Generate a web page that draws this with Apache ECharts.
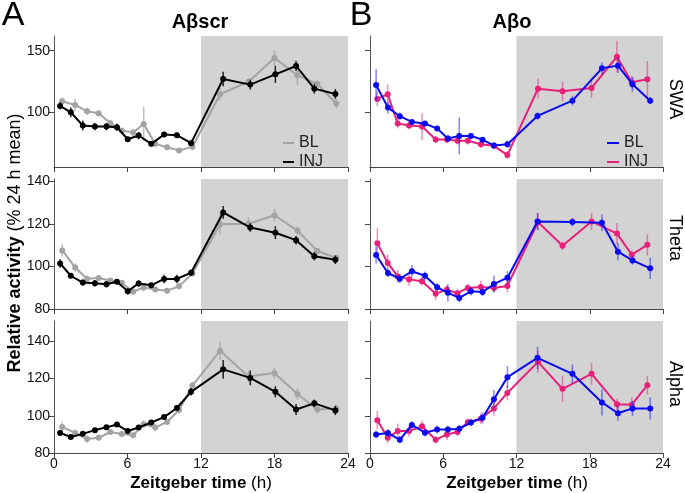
<!DOCTYPE html>
<html><head><meta charset="utf-8">
<script src="https://cdn.jsdelivr.net/npm/echarts@6/dist/echarts.min.js"></script>
<style>html,body{margin:0;padding:0;background:#fff}#c{width:685px;height:493px}</style>
</head><body><div id="c"></div>
<script>
// ---------- tick labels ----------
const xTicks = [0, 6, 12, 18, 24];
const swaTicks = [100, 150];
const thetaTicks = [80, 100, 120, 140];
const alphaTicks = [80, 100, 120, 140];
const rowNames = ['SWA', 'Theta', 'Alpha'];
const groupTitles = ['Aβscr', 'Aβo'];
const panelLetters = ['A', 'B'];
const legendNames = ['BL', 'INJ'];

// ---------- sample times (Zeitgeber h) ----------
const scrBLTime  = [0.67,1.73,2.7,3.65,4.6,5.53,6.46,7.32,8.27,9.23,10.21,11.3,13.56,15.88,18.0,19.87,21.5,23.04];
const scrINJTime = [0.5,1.37,2.35,3.34,4.28,5.14,6.02,6.91,7.94,8.99,10.03,11.19,13.81,16.02,18.07,19.76,21.25,22.97];
const oBLTime    = [0.5,1.47,2.44,3.43,4.5,5.5,6.38,7.31,8.27,9.22,10.15,11.26,13.72,16.58,19.0,20.31,21.5,22.95];
const oINJTime   = [0.6,1.45,2.27,3.2,4.26,5.38,6.3,7.16,8.01,9.08,10.15,11.25,13.76,15.77,18.15,20.23,21.44,22.72];

// ---------- Aβscr ----------
const scrSwaBL     = [108.7,105.7,100.5,98.9,90.8,84.8,83.2,90.2,73.9,71.2,68.5,71.5,114.4,124.7,144,130,122.8,106.8];
const scrSwaBLErr  = [3,5,3,2,2,2,3,14,3,2,2,3,5,3,6,8,3,4];
const scrSwaINJ    = [104.9,99.7,88.9,88,88,87.5,77.7,80.7,73.9,81.5,81,74.5,126.9,122.3,130.7,137.5,119,114.7];
const scrSwaINJErr = [3,4,4,3,3,3,2,3,2,2,2,2,6,4,7,4,4,4];
const scrThetaBL     = [107.5,99.5,94.2,94.5,93.4,92.3,88.1,90.1,89.2,88.6,90.7,96.6,119.8,120,124,116.8,107.2,104];
const scrThetaBLErr  = [3,2,1,1,1,1,1,2,1,1,1.5,1,5,3,3,2,1.5,1];
const scrThetaINJ    = [101.4,95.6,92.4,92.1,91.6,92.8,88.3,92,91.1,94.1,94.1,97,125.3,118.2,115.8,112.3,104.8,103.1];
const scrThetaINJErr = [2,1,1.5,1.5,1.5,1,1.5,1.5,1,2,2,1.5,3,2,3,2,2,2];
const scrAlphaBL     = [94,90.8,87.5,88.2,91.3,90.2,89.5,95.5,93.7,96.7,103.1,116.3,135,121.2,123,111.7,103.4,104];
const scrAlphaBLErr  = [3,2,2,1,1,1,1,2,2,1.5,2,2,5,3,3,3,2,2];
const scrAlphaINJ    = [90.8,88.6,90.3,92.3,93.8,95.3,91.8,93.7,96.4,99.3,104.2,112.9,125,120.4,112.9,103.4,106.7,102.9];
const scrAlphaINJErr = [1,1,1,1,1,1,1.5,1,1,1,1.5,2,5,4,3,3,2,2.5];

// ---------- Aβo ----------
const oSwaBL     = [122,103.5,96.5,91.8,90.5,86.4,78.3,80.4,80.4,77.2,72.6,73.6,96.7,109.2,135.6,137.8,122.6,109.2];
const oSwaBLErr  = [13,5,3,2,2,2,3,15,2,2,2,3,3,4,5,6,6,3];
const oSwaINJ    = [110.6,114.4,90.5,88.9,88,77.4,77.4,76.4,76.4,73.6,72.3,64.7,119,116.8,119.6,145.1,124.2,126.6];
const oSwaINJErr = [6,8,4,3,11,3,3,3,3,3,3,3,8,8,8,13,5,15];
const oThetaBL     = [105.3,96.9,94.2,97.7,95.6,90.2,87.6,85.2,88.3,88,91.7,94.7,121.1,120.8,120.5,106.9,102.8,99.1];
const oThetaBLErr  = [4,2,2,3,2,2,4,2,2,2,4,3,4,2,4,4,2,5];
const oThetaINJ    = [110.9,101.6,95.3,93.9,93,87.2,89.1,87.4,89.9,90.3,89.9,90.8,120.8,109.7,121.1,115.4,105.5,110.1];
const oThetaINJErr = [7,4,3,3,2,3,2,2,2,3,2,3,4,2,4,5,2,5];
const oAlphaBL     = [90,90.8,87.1,95.1,90.9,92.6,92.6,93.1,96.4,98.9,108.9,120.8,131.2,122.6,107.2,101.4,104,104];
const oAlphaBLErr  = [2,2,2,2,2,2,2,2,2,3,5,6,6,5,7,4,4,6];
const oAlphaINJ    = [97.6,88.2,91.8,91.8,94.4,87.1,90,91.3,96.6,98.4,104,112.3,129,114.5,122.6,106.2,106,116.5];
const oAlphaINJErr = [5,3,4,3,3,2,3,2,2,3,4,4,6,7,6,3,4,5];

// ---------- layout / style ----------
const FONT = 'Liberation Sans, Arial, Helvetica, sans-serif';
const colLeft = [54, 370], colWidth = [294, 293];
const rowTop = [36, 179, 321], rowHeight = [131, 130, 132];
const rowRange = [[55, 162], [80, 141], [80, 151]];
const rowTicks = [swaTicks, thetaTicks, alphaTicks];
const colColors = [
  {bl: '#a3a3a3', blErr: 'rgba(150,150,150,0.6)', inj: '#000000', injErr: 'rgba(0,0,0,0.85)', injTop: true},
  {bl: '#0b0bf0', blErr: 'rgba(30,30,240,0.55)', inj: '#e8207a', injErr: 'rgba(232,32,122,0.5)', injTop: false}
];
const panelData = [
  [[scrBLTime, scrSwaBL, scrSwaBLErr, scrINJTime, scrSwaINJ, scrSwaINJErr],
   [oBLTime, oSwaBL, oSwaBLErr, oINJTime, oSwaINJ, oSwaINJErr]],
  [[scrBLTime, scrThetaBL, scrThetaBLErr, scrINJTime, scrThetaINJ, scrThetaINJErr],
   [oBLTime, oThetaBL, oThetaBLErr, oINJTime, oThetaINJ, oThetaINJErr]],
  [[scrBLTime, scrAlphaBL, scrAlphaBLErr, scrINJTime, scrAlphaINJ, scrAlphaINJErr],
   [oBLTime, oAlphaBL, oAlphaBLErr, oINJTime, oAlphaINJ, oAlphaINJErr]]
];

function errRender(color) {
  return function (params, api) {
    const x = api.value(0), lo = api.value(1), hi = api.value(2);
    const p1 = api.coord([x, lo]), p2 = api.coord([x, hi]);
    return {type: 'line', shape: {x1: p1[0], y1: p1[1], x2: p2[0], y2: p2[1]},
            style: {stroke: color, lineWidth: 1.5}};
  };
}

const grid = [], xAxis = [], yAxis = [], series = [];
for (let r = 0; r < 3; r++) {
  for (let c = 0; c < 2; c++) {
    const idx = grid.length;
    grid.push({left: colLeft[c], top: rowTop[r], width: colWidth[c], height: rowHeight[r], containLabel: false});
    xAxis.push({
      type: 'value', gridIndex: idx, min: 0, max: 24, interval: 6, z: 6,
      axisLine: {show: true, lineStyle: {color: '#444', width: 1}},
      axisTick: {show: true, length: 5, lineStyle: {color: '#444'}},
      axisLabel: {show: r === 2, color: '#111', fontSize: 14, fontFamily: FONT, margin: 4,
                  customValues: xTicks},
      splitLine: {show: false}
    });
    yAxis.push({
      type: 'value', gridIndex: idx, min: rowRange[r][0], max: rowRange[r][1], z: 6,
      axisLine: {show: true, lineStyle: {color: '#555', width: 1}},
      axisTick: {show: true, length: 5, lineStyle: {color: '#444'}, customValues: rowTicks[r]},
      axisLabel: {show: c === 0, color: '#111', fontSize: 14, fontFamily: FONT, margin: 4,
                  customValues: rowTicks[r]},
      splitLine: {show: false}
    });
    const d = panelData[r][c];
    const col = colColors[c];
    // dark-phase shading
    series.push({
      type: 'line', xAxisIndex: idx, yAxisIndex: idx, data: [], z: 1, silent: true,
      markArea: {silent: true, itemStyle: {color: '#d3d3d3', opacity: 1},
                 data: [[{xAxis: 12}, {xAxis: 24}]]}
    });
    const mk = (times, vals, errs, color, errColor, z) => {
      series.push({
        type: 'custom', xAxisIndex: idx, yAxisIndex: idx, z: z, silent: true,
        renderItem: errRender(errColor), encode: {x: 0, y: [1, 2]},
        data: times.map((t, i) => [t, vals[i] - errs[i], vals[i] + errs[i]])
      });
      series.push({
        type: 'line', xAxisIndex: idx, yAxisIndex: idx, z: z + 1, silent: true,
        data: times.map((t, i) => [t, vals[i]]),
        symbol: 'circle', symbolSize: 6, showSymbol: true,
        lineStyle: {color: color, width: 2}, itemStyle: {color: color}
      });
    };
    if (col.injTop) {
      mk(d[0], d[1], d[2], col.bl, col.blErr, 3);
      mk(d[3], d[4], d[5], col.inj, col.injErr, 5);
    } else {
      mk(d[3], d[4], d[5], col.inj, col.injErr, 3);
      mk(d[0], d[1], d[2], col.bl, col.blErr, 5);
    }
  }
}

const txt = (x, y, text, extra) => Object.assign({type: 'text', x: x, y: y, z: 100,
  style: Object.assign({text: text, fontFamily: FONT, fill: '#000', align: 'center', verticalAlign: 'middle'}, extra.style || {})},
  extra.rotation !== undefined ? {rotation: extra.rotation} : {});

const graphic = [
  txt(13, 16, panelLetters[0], {style: {fontSize: 34}}),
  txt(361, 16, panelLetters[1], {style: {fontSize: 34}}),
  txt(200, 22, groupTitles[0], {style: {fontSize: 20, fontWeight: 'bold'}}),
  txt(512, 22, groupTitles[1], {style: {fontSize: 20, fontWeight: 'bold'}}),
  txt(675, 99, rowNames[0], {rotation: -Math.PI / 2, style: {fontSize: 18}}),
  txt(675, 238, rowNames[1], {rotation: -Math.PI / 2, style: {fontSize: 18}}),
  txt(675, 384, rowNames[2], {rotation: -Math.PI / 2, style: {fontSize: 18}}),
  {type: 'text', x: 15, y: 243, rotation: Math.PI / 2, z: 100,
   style: {text: '{b|Relative activity }{n|(% 24 h mean)}', align: 'center', verticalAlign: 'middle',
           rich: {b: {fontSize: 18, fontWeight: 'bold', fontFamily: FONT, fill: '#000'},
                  n: {fontSize: 18, fontFamily: FONT, fill: '#000'}}}},
  {type: 'text', x: 201, y: 483, z: 100,
   style: {text: '{b|Zeitgeber time }{n|(h)}', align: 'center', verticalAlign: 'middle',
           rich: {b: {fontSize: 17, fontWeight: 'bold', fontFamily: FONT, fill: '#000'},
                  n: {fontSize: 17, fontFamily: FONT, fill: '#000'}}}},
  {type: 'text', x: 517, y: 483, z: 100,
   style: {text: '{b|Zeitgeber time }{n|(h)}', align: 'center', verticalAlign: 'middle',
           rich: {b: {fontSize: 17, fontWeight: 'bold', fontFamily: FONT, fill: '#000'},
                  n: {fontSize: 17, fontFamily: FONT, fill: '#000'}}}},
  // legends
  {type: 'line', z: 100, shape: {x1: 283, y1: 143, x2: 294, y2: 143}, style: {stroke: colColors[0].bl, lineWidth: 2}},
  {type: 'line', z: 100, shape: {x1: 283, y1: 162, x2: 294, y2: 162}, style: {stroke: colColors[0].inj, lineWidth: 2}},
  txt(299, 143, legendNames[0], {style: {fontSize: 16, align: 'left', fill: '#222'}}),
  txt(299, 162, legendNames[1], {style: {fontSize: 16, align: 'left', fill: '#222'}}),
  {type: 'line', z: 100, shape: {x1: 607, y1: 143, x2: 619, y2: 143}, style: {stroke: colColors[1].bl, lineWidth: 2}},
  {type: 'line', z: 100, shape: {x1: 607, y1: 162, x2: 619, y2: 162}, style: {stroke: colColors[1].inj, lineWidth: 2}},
  txt(624, 143, legendNames[0], {style: {fontSize: 16, align: 'left', fill: '#222'}}),
  txt(624, 162, legendNames[1], {style: {fontSize: 16, align: 'left', fill: '#222'}})
];

const chart = echarts.init(document.getElementById('c'), null, {renderer: 'canvas'});
chart.setOption({animation: false, backgroundColor: '#fff', grid, xAxis, yAxis, series, graphic});
</script></body></html>
